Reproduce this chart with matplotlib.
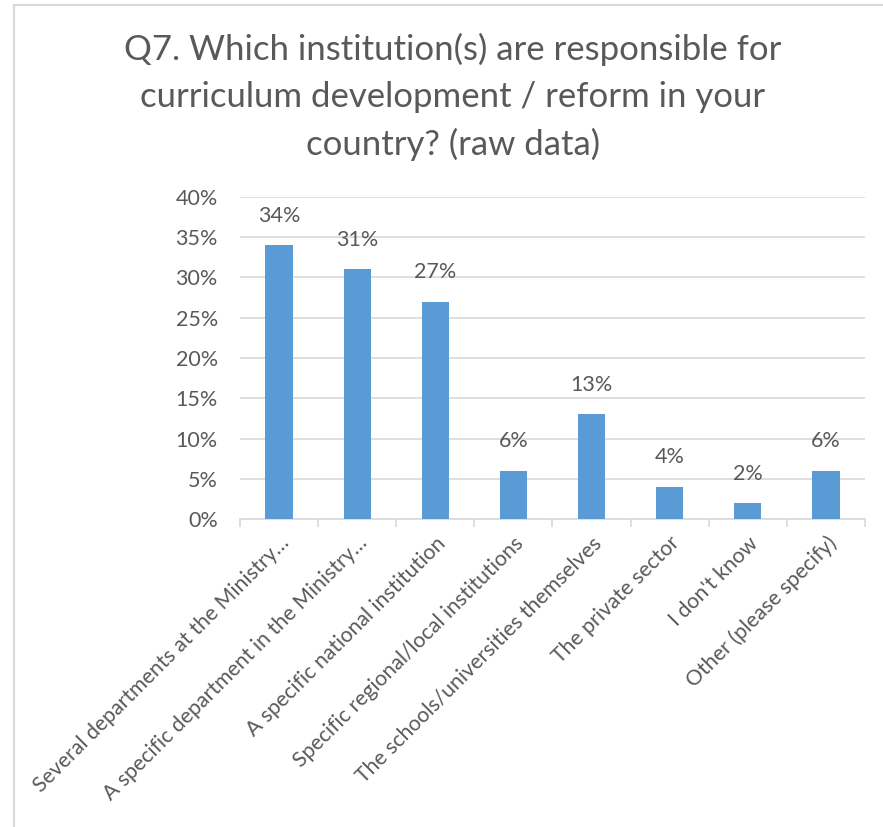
import matplotlib.pyplot as plt
from matplotlib.lines import Line2D
import numpy as np

plt.rcParams['font.family'] = ['Lato', 'DejaVu Sans']

categories = [
    'Several departments at the Ministry…',
    'A specific department in the Ministry…',
    'A specific national institution',
    'Specific regional/local institutions',
    'The schools/universities themselves',
    'The private sector',
    "I don't know",
    'Other (please specify)',
]
shares = [34, 31, 27, 6, 13, 4, 2, 6]
yticks = [0, 5, 10, 15, 20, 25, 30, 35, 40]

text_col = '#595959'
grid_col = '#D9D9D9'
bar_col = '#5B9BD5'

fig = plt.figure(figsize=(8.83, 8.27), dpi=100)
ax = fig.add_axes([0.2718, 0.3724, 0.7078, 0.3894])

x = np.arange(len(categories))
ax.bar(x, shares, width=0.35, color=bar_col, zorder=3)

for xi, v in zip(x, shares):
    ax.text(xi, v + 2.4, f'{v}%', ha='center', va='bottom',
            fontsize=15.5, color=text_col)

ax.set_xlim(-0.5, len(categories) - 0.5)
ax.set_ylim(0, 40)
ax.set_yticks(yticks)
ax.set_yticklabels([f'{t}%' for t in yticks], fontsize=15.5, color=text_col)
ax.yaxis.grid(True, color=grid_col, linewidth=1.2, zorder=0)
ax.tick_params(axis='y', length=0, pad=16)

ax.set_xticks(x)
ax.set_xticklabels(categories, rotation=45, ha='right', rotation_mode='anchor',
                   fontsize=15.3, color=text_col)
ax.set_xticks(np.arange(len(categories) + 1) - 0.5, minor=True)
ax.tick_params(axis='x', which='major', length=0, pad=10)
ax.tick_params(axis='x', which='minor', length=6, color=grid_col, width=1.2)

for side in ['top', 'right', 'left']:
    ax.spines[side].set_visible(False)
ax.spines['bottom'].set_color(grid_col)
ax.spines['bottom'].set_linewidth(1.2)

fig.text(0.513, 0.96,
         'Q7. Which institution(s) are responsible for\n'
         'curriculum development / reform in your\n'
         'country? (raw data)',
         ha='center', va='top', fontsize=25, color=text_col, linespacing=1.55)

# chart frame (top and left edges)
fig.add_artist(Line2D([14 / 883, 1], [1 - 5 / 827, 1 - 5 / 827],
                      transform=fig.transFigure, color=grid_col, linewidth=1.5))
fig.add_artist(Line2D([14 / 883, 14 / 883], [0, 1 - 5 / 827],
                      transform=fig.transFigure, color=grid_col, linewidth=1.5))

fig.savefig('out.png', dpi=100, facecolor='white')
